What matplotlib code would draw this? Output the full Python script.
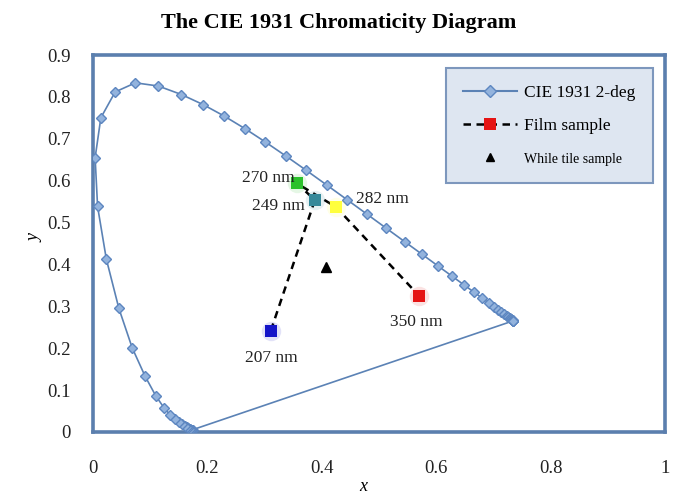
import matplotlib

matplotlib.use("Agg")

import matplotlib.pyplot as plt
from matplotlib.lines import Line2D

# CIE 1931 2-deg spectral locus, 380-700 nm in 5 nm steps
locus_x = [
    0.1741, 0.1740, 0.1738, 0.1736, 0.1733, 0.1730, 0.1726, 0.1721, 0.1714,
    0.1703, 0.1689, 0.1669, 0.1644, 0.1611, 0.1566, 0.1510, 0.1440, 0.1355,
    0.1241, 0.1096, 0.0913, 0.0687, 0.0454, 0.0235, 0.0082, 0.0039, 0.0139,
    0.0389, 0.0743, 0.1142, 0.1547, 0.1929, 0.2296, 0.2658, 0.3016, 0.3373,
    0.3731, 0.4087, 0.4441, 0.4788, 0.5125, 0.5448, 0.5752, 0.6029, 0.6270,
    0.6482, 0.6658, 0.6801, 0.6915, 0.7006, 0.7079, 0.7140, 0.7190, 0.7230,
    0.7260, 0.7283, 0.7300, 0.7311, 0.7320, 0.7327, 0.7334, 0.7340, 0.7344,
    0.7346, 0.7347,
]
locus_y = [
    0.0050, 0.0050, 0.0049, 0.0049, 0.0048, 0.0048, 0.0048, 0.0048, 0.0051,
    0.0058, 0.0069, 0.0086, 0.0109, 0.0138, 0.0177, 0.0227, 0.0297, 0.0399,
    0.0578, 0.0868, 0.1327, 0.2007, 0.2950, 0.4127, 0.5384, 0.6548, 0.7502,
    0.8120, 0.8338, 0.8262, 0.8059, 0.7816, 0.7543, 0.7243, 0.6923, 0.6589,
    0.6245, 0.5896, 0.5547, 0.5202, 0.4866, 0.4544, 0.4242, 0.3965, 0.3725,
    0.3514, 0.3340, 0.3197, 0.3083, 0.2993, 0.2920, 0.2859, 0.2809, 0.2770,
    0.2740, 0.2717, 0.2700, 0.2689, 0.2680, 0.2673, 0.2666, 0.2660, 0.2656,
    0.2654, 0.2653,
]

# film samples, in drawing order of the dashed path
film_labels = ["207 nm", "249 nm", "270 nm", "282 nm", "350 nm"]
film_x = [0.311, 0.388, 0.356, 0.425, 0.570]
film_y = [0.242, 0.554, 0.594, 0.537, 0.325]
film_colors = ["#1414c8", "#35899a", "#2cc12c", "#ffff3c", "#e51414"]

tile_x = [0.407]
tile_y = [0.394]

x_ticks = [0, 0.2, 0.4, 0.6, 0.8, 1]
y_ticks = [0, 0.1, 0.2, 0.3, 0.4, 0.5, 0.6, 0.7, 0.8, 0.9]

plt.rcParams["font.family"] = ["Liberation Serif", "DejaVu Serif"]

line_blue = "#5b82b5"
frame_blue = "#5b7fae"

figure = plt.figure(figsize=(6.78, 5.01), dpi=100)
axis = figure.add_axes((0.137, 0.138, 0.844, 0.752))

# closed locus: spectral curve plus the purple line back to 380 nm
axis.plot(
    locus_x + [locus_x[0]],
    locus_y + [locus_y[0]],
    color=line_blue,
    linewidth=1.2,
    zorder=2,
)
axis.plot(
    locus_x,
    locus_y,
    linestyle="None",
    marker="D",
    markersize=5.5,
    markerfacecolor="#93b3dd",
    markeredgecolor="#5d86c0",
    markeredgewidth=1.0,
    zorder=3,
)

axis.plot(film_x, film_y, color="black", linestyle="--", linewidth=1.8,
          dashes=(3, 2.2), zorder=4)
for px, py, color in zip(film_x, film_y, film_colors):
    axis.plot(px, py, marker="o", markersize=14, color=color, alpha=0.12,
              markeredgewidth=0, zorder=5)
    axis.plot(px, py, marker="s", markersize=8, color=color,
              markeredgewidth=0, zorder=6)

axis.plot(tile_x, tile_y, linestyle="None", marker="^", markersize=7,
          color="black", zorder=6)

label_offsets = {
    "207 nm": (0.0, -0.065, "center"),
    "249 nm": (-0.018, -0.014, "right"),
    "270 nm": (-0.004, 0.013, "right"),
    "282 nm": (0.035, 0.02, "left"),
    "350 nm": (-0.005, -0.062, "center"),
}
for label, px, py in zip(film_labels, film_x, film_y):
    dx, dy, ha = label_offsets[label]
    axis.text(px + dx, py + dy, label, ha=ha, va="center", fontsize=12.5,
              color="#222222", zorder=7)

axis.set_xlim(0, 1)
axis.set_ylim(0, 0.9)
axis.set_xticks(x_ticks)
axis.set_xticklabels(["0", "0.2", "0.4", "0.6", "0.8", "1"])
axis.set_yticks(y_ticks)
axis.set_yticklabels(["0", "0.1", "0.2", "0.3", "0.4", "0.5", "0.6", "0.7", "0.8", "0.9"])
axis.tick_params(axis="both", length=0, labelsize=13.5, labelcolor="#222222")
axis.tick_params(axis="x", pad=20)
axis.tick_params(axis="y", pad=16)
for spine in axis.spines.values():
    spine.set_color(frame_blue)
    spine.set_linewidth(2.6)

figure.text(0.535, 0.012, "x", style="italic", fontsize=13, ha="center", va="bottom")
figure.text(0.052, 0.525, "y", style="italic", fontsize=13, ha="center",
            va="center", rotation=90)
figure.text(0.50, 0.955, "The CIE 1931 Chromaticity Diagram", fontsize=16,
            fontweight="bold", ha="center", va="center")

handles = [
    Line2D([0], [0], color=line_blue, linewidth=1.5, marker="D", markersize=6,
           markerfacecolor="#93b3dd", markeredgecolor="#5d86c0"),
    Line2D([0], [0], color="black", linestyle="--", linewidth=1.8, dashes=(3, 2.2),
           marker="s", markersize=8, markerfacecolor="#e51414",
           markeredgewidth=0),
    Line2D([0], [0], linestyle="None", marker="^", markersize=6, color="black"),
]
legend = axis.legend(
    handles,
    ["CIE 1931 2-deg", "Film sample", "While tile sample"],
    loc="upper left",
    bbox_to_anchor=(0.617, 0.966),
    borderaxespad=0,
    fontsize=12.5,
    handlelength=3.1,
    handletextpad=0.4,
    labelspacing=0.95,
    borderpad=1.0,
    fancybox=False,
    framealpha=1,
)
legend.get_frame().set_facecolor("#dee6f1")
legend.get_frame().set_edgecolor("#7d97bd")
legend.get_frame().set_linewidth(1.5)
legend.get_texts()[2].set_fontsize(10)

figure.savefig("out.png", dpi=100)
plt.close(figure)
